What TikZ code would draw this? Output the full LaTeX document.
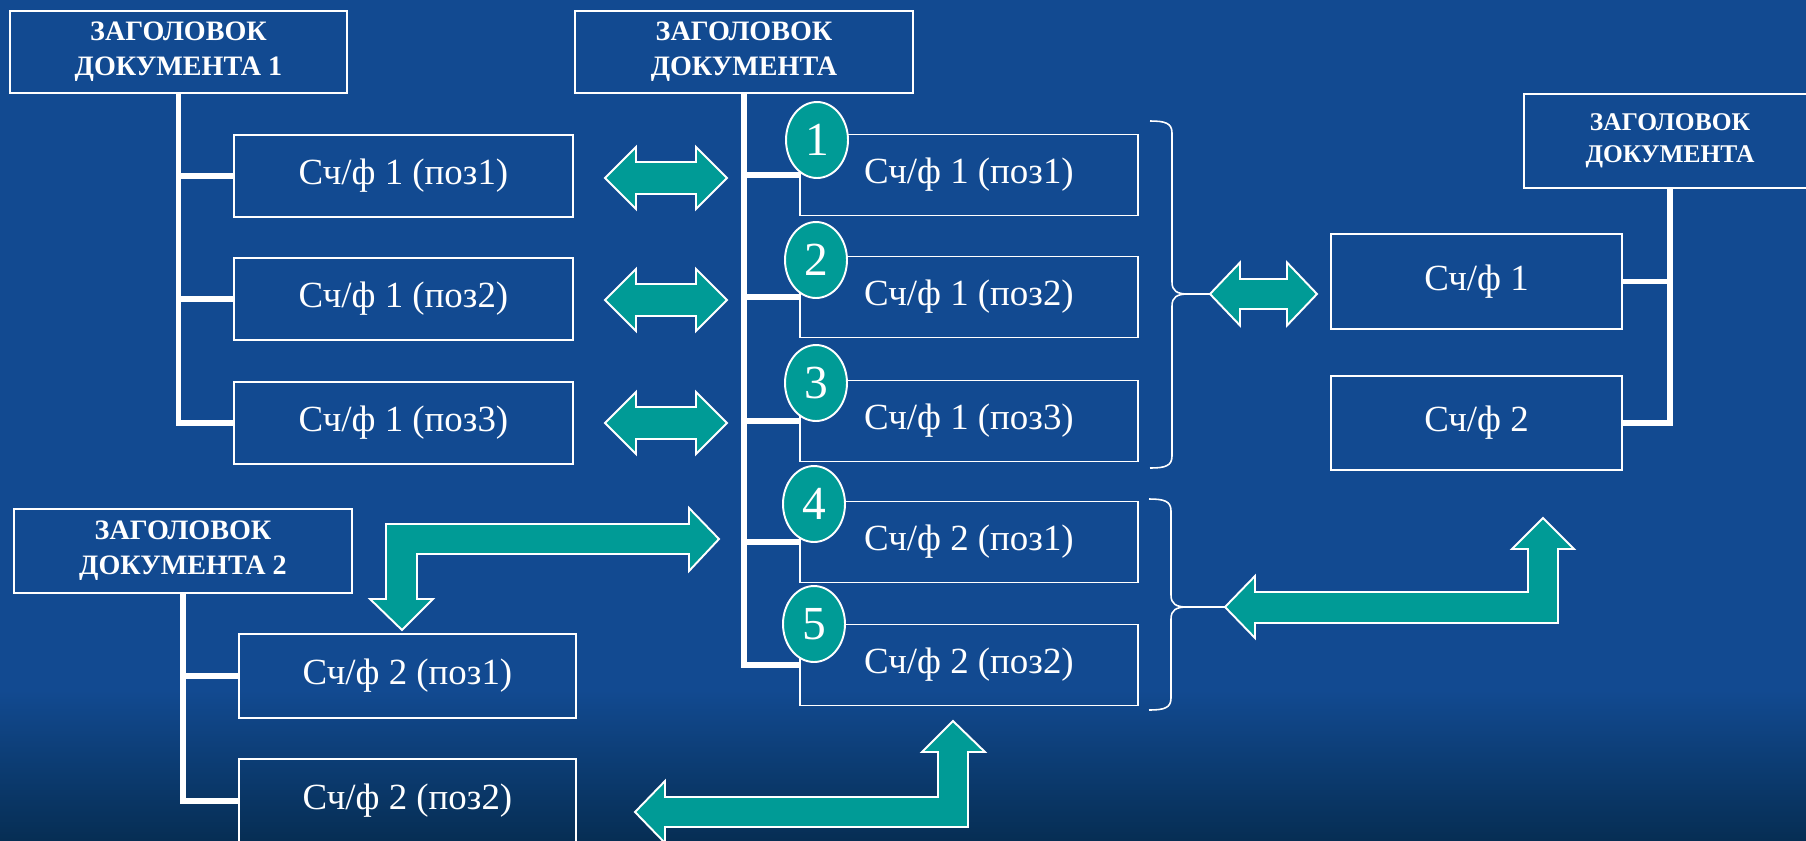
\documentclass[tikz,border=0pt]{standalone}
\usepackage{fontspec}
\setmainfont{Liberation Serif}
\usetikzlibrary{shapes.geometric}
\definecolor{bgmain}{RGB}{18,74,145}
\definecolor{bgdark}{RGB}{6,46,84}
\definecolor{tealfill}{RGB}{0,155,150}
\tikzset{
  box/.style={draw=white, line width=1.1pt, inner sep=0pt, text=white, font=\fontsize{21}{25}\selectfont},
  hdr/.style={draw=white, line width=1.1pt, inner sep=0pt, text=white, align=center, font=\bfseries\fontsize{16}{20}\selectfont},
  tree/.style={draw=white, line width=2.9pt},
  num/.style={ellipse, draw=white, line width=1.1pt, fill=tealfill, text=white, inner sep=0pt, minimum width=1.24cm, minimum height=1.52cm, font=\fontsize{27}{27}\selectfont},
  blk/.style={fill=tealfill, draw=white, line width=1.1pt, line join=miter},
  brc/.style={draw=white, line width=0.9pt},
}
\newcommand\dblarr[6]{%
  \draw[blk] (#1,#3) -- (#1+#4,#3-#5) -- (#1+#4,#3-#6) -- (#2-#4,#3-#6) -- (#2-#4,#3-#5) -- (#2,#3) -- (#2-#4,#3+#5) -- (#2-#4,#3+#6) -- (#1+#4,#3+#6) -- (#1+#4,#3+#5) -- cycle;}
\newcommand\mybrc[4]{%
  \draw[brc] (#1,#2) .. controls (#1+15,#2) and (#1+22,#2+2) .. (#1+22,#2+12) -- (#1+22,#4-12) .. controls (#1+22,#4-3) and (#1+27,#4) .. (#1+38,#4) .. controls (#1+27,#4) and (#1+22,#4+3) .. (#1+22,#4+12) -- (#1+22,#3-12) .. controls (#1+22,#3-2) and (#1+15,#3) .. (#1,#3);}
\begin{document}
\begin{tikzpicture}[x=0.02cm, y=-0.02cm]
\useasboundingbox (0,0) rectangle (1806,840);
\clip (0,0) rectangle (1806,840);
\fill[bgmain] (0,0) rectangle (1806,840);
\shade[top color=bgmain, bottom color=bgdark] (0,690) rectangle (1806,840);

% headers
\node[hdr, minimum width=6.74cm, minimum height=1.64cm] (h1) at (178.5,52) {ЗАГОЛОВОК\\ДОКУМЕНТА 1};
\node[hdr, minimum width=6.76cm, minimum height=1.64cm] (hc) at (744,52) {ЗАГОЛОВОК\\ДОКУМЕНТА};
\node[hdr, font=\bfseries\fontsize{14.5}{18}\selectfont, minimum width=5.84cm, minimum height=1.88cm] (hr) at (1670,141) {ЗАГОЛОВОК\\ДОКУМЕНТА};
\node[hdr, minimum width=6.76cm, minimum height=1.68cm] (h2) at (183,551) {ЗАГОЛОВОК\\ДОКУМЕНТА 2};

% left boxes
\node[box, minimum width=6.78cm, minimum height=1.64cm] (l1) at (403.5,176) {Сч/ф 1 (поз1)};
\node[box, minimum width=6.78cm, minimum height=1.64cm] (l2) at (403.5,299) {Сч/ф 1 (поз2)};
\node[box, minimum width=6.78cm, minimum height=1.64cm] (l3) at (403.5,423) {Сч/ф 1 (поз3)};

% centre boxes
\node[box, minimum width=6.76cm, minimum height=1.62cm] (c1) at (969,175) {Сч/ф 1 (поз1)};
\node[box, minimum width=6.76cm, minimum height=1.62cm] (c2) at (969,297) {Сч/ф 1 (поз2)};
\node[box, minimum width=6.76cm, minimum height=1.62cm] (c3) at (969,421) {Сч/ф 1 (поз3)};
\node[box, minimum width=6.76cm, minimum height=1.62cm] (c4) at (969,542) {Сч/ф 2 (поз1)};
\node[box, minimum width=6.76cm, minimum height=1.62cm] (c5) at (969,665) {Сч/ф 2 (поз2)};

% right boxes
\node[box, minimum width=5.82cm, minimum height=1.9cm] (r1) at (1476.5,281.5) {Сч/ф 1};
\node[box, minimum width=5.82cm, minimum height=1.88cm] (r2) at (1476.5,423) {Сч/ф 2};

% lower boxes
\node[box, minimum width=6.74cm, minimum height=1.68cm] (d1) at (407.5,676) {Сч/ф 2 (поз1)};
\node[box, minimum width=6.74cm, minimum height=1.68cm] (d2) at (407.5,801) {Сч/ф 2 (поз2)};

% trees
\draw[tree] (h1.south) -- (h1.south |- l3.west) -- (l3.west);
\draw[tree] (h1.south |- l1.west) -- (l1.west);
\draw[tree] (h1.south |- l2.west) -- (l2.west);

\draw[tree] (hc.south) -- (hc.south |- c5.west) -- (c5.west);
\draw[tree] (hc.south |- c1.west) -- (c1.west);
\draw[tree] (hc.south |- c2.west) -- (c2.west);
\draw[tree] (hc.south |- c3.west) -- (c3.west);
\draw[tree] (hc.south |- c4.west) -- (c4.west);

\draw[tree] (hr.south) -- (hr.south |- r2.east) -- (r2.east);
\draw[tree] (hr.south |- r1.east) -- (r1.east);

\draw[tree] (h2.south) -- (h2.south |- d2.west) -- (d2.west);
\draw[tree] (h2.south |- d1.west) -- (d1.west);

% numbered circles
\node[num] (n1) at (817,140) {1};
\node[num] (n2) at (816,260) {2};
\node[num] (n3) at (816,383) {3};
\node[num] (n4) at (814,504) {4};
\node[num] (n5) at (814,624) {5};

% double arrows
\dblarr{605}{727}{178}{31}{31}{16}
\dblarr{605}{727}{300}{31}{31}{16}
\dblarr{605}{727}{423}{31}{31}{16}
\dblarr{1210}{1317}{294}{30}{31.5}{15}

% L-shaped arrows
\draw[blk] (719,539) -- (689,508) -- (689,524) -- (386,524) -- (386,599) -- (370,599) -- (402,630) -- (433,599) -- (417,599) -- (417,554) -- (689,554) -- (689,571) -- cycle;
\draw[blk] (635,812) -- (665,781) -- (665,797) -- (938,797) -- (938,752) -- (922,752) -- (953,721) -- (985,752) -- (968,752) -- (968,827) -- (665,827) -- (665,843) -- cycle;
\draw[blk] (1225,607) -- (1255,576) -- (1255,592) -- (1528,592) -- (1528,549) -- (1512,549) -- (1543,518) -- (1574,549) -- (1558,549) -- (1558,623) -- (1255,623) -- (1255,638) -- cycle;

% braces
\mybrc{1150}{121}{468}{294}
\mybrc{1149}{499}{710}{607}
\coordinate (bt1) at (1188,294);
\coordinate (at1) at (1210,294);
\coordinate (bt2) at (1187,607);
\coordinate (at2) at (1225,607);
\draw[brc] (bt1) -- (at1);
\draw[brc] (bt2) -- (at2);
\end{tikzpicture}
\end{document}
